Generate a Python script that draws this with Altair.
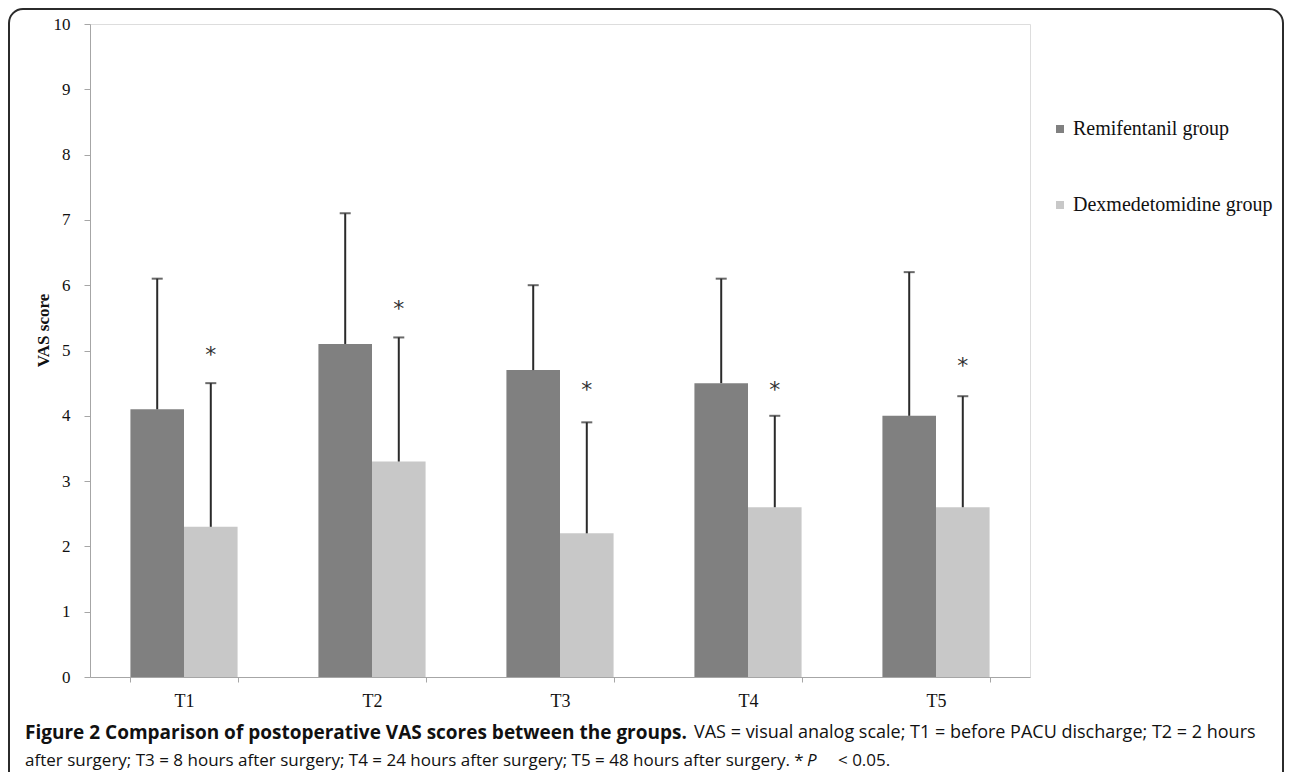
import altair as alt
import pandas as pd

categories = ["T1", "T2", "T3", "T4", "T5"]
groups = ["Remifentanil group", "Dexmedetomidine group"]
remi_mean = [4.1, 5.1, 4.7, 4.5, 4.0]
remi_upper = [6.1, 7.1, 6.0, 6.1, 6.2]
dex_mean = [2.3, 3.3, 2.2, 2.6, 2.6]
dex_upper = [4.5, 5.2, 3.9, 4.0, 4.3]
star_pos = [5.0, 5.7, 4.46, 4.46, 4.83]
colors = ["#808080", "#c8c8c8"]

caption_bold = "Figure 2 Comparison of postoperative VAS scores between the groups."
caption_line1 = "VAS = visual analog scale; T1 = before PACU discharge; T2 = 2 hours"
caption_line2a = "after surgery; T3 = 8 hours after surgery; T4 = 24 hours after surgery; T5 = 48 hours after surgery. *"
caption_line2b = "P"
caption_line2c = "< 0.05."

rows = []
for i, c in enumerate(categories):
    rows.append({"cat": c, "group": groups[0], "value": remi_mean[i], "upper": remi_upper[i]})
    rows.append({"cat": c, "group": groups[1], "value": dex_mean[i], "upper": dex_upper[i]})
df = pd.DataFrame(rows)
stars = pd.DataFrame({"cat": categories, "group": [groups[1]] * 5, "pos": star_pos, "t": ["*"] * 5})

W, H = 940, 653
SERIF = "Liberation Serif"
CAP = "Open Sans"

xenc = alt.X("cat:N", sort=categories, title=None,
             scale=alt.Scale(paddingInner=0.43, paddingOuter=0.215),
             axis=alt.Axis(labelAngle=0, tickBand="extent", tickSize=5, labelPadding=10,
                           labelFont=SERIF, labelFontSize=18, labelColor="#111",
                           domainColor="#a6a6a6", tickColor="#a6a6a6"))
xoff = alt.XOffset("group:N", sort=groups)
yscale = alt.Scale(domain=[0, 10])
yaxis = alt.Axis(values=list(range(11)), format="d", tickSize=6, labelPadding=14, grid=False,
                 labelFont=SERIF, labelFontSize=17, labelColor="#111",
                 domainColor="#a6a6a6", tickColor="#a6a6a6",
                 title="VAS score", titleFont=SERIF, titleFontSize=17, titleFontWeight="bold",
                 titleColor="#111", titleX=-47, titleY=306, titleAngle=270, titleAlign="center",
                 titleBaseline="middle")

bars = alt.Chart(df).mark_bar().encode(
    x=xenc, xOffset=xoff,
    y=alt.Y("value:Q", scale=yscale, axis=yaxis),
    color=alt.Color("group:N", sort=groups, scale=alt.Scale(domain=groups, range=colors),
                    legend=alt.Legend(orient="none", legendX=960, legendY=95, title=None,
                                      symbolType="square", symbolSize=64, symbolStrokeWidth=0,
                                      labelFont=SERIF, labelFontSize=20, labelColor="#111",
                                      rowPadding=56, labelOffset=3, labelLimit=300)),
)
err = alt.Chart(df).mark_rule(color="#2a2a2a", strokeWidth=2).encode(
    x=alt.X("cat:N", sort=categories), xOffset=xoff, y="value:Q", y2="upper:Q")
caps = alt.Chart(df).mark_tick(color="#2a2a2a", orient="horizontal", size=11, thickness=2).encode(
    x=alt.X("cat:N", sort=categories), xOffset=xoff, y="upper:Q")
star = alt.Chart(stars).mark_text(font="DejaVu Sans", fontSize=22, color="#333", baseline="middle", dy=4).encode(
    x=alt.X("cat:N", sort=categories), xOffset=alt.XOffset("group:N", sort=groups), y="pos:Q", text="t:N")

border = alt.Chart(pd.DataFrame({"a": [0]})).mark_rect(
    filled=False, stroke="#2b2b2b", strokeWidth=2, cornerRadius=14).encode(
    x=alt.value(-81), x2=alt.value(1193), y=alt.value(-15), y2=alt.value(800))

cap_df = pd.DataFrame({"a": [0]})
def cap_text(txt, x, y, size=17, weight="normal", style="normal", align="left"):
    return alt.Chart(cap_df).mark_text(font=CAP, fontSize=size, fontWeight=weight, fontStyle=style,
                                       align=align, baseline="middle", color="#111").encode(
        x=alt.value(x), y=alt.value(y), text=alt.value(txt))

c1 = cap_text(caption_bold, -65, 709, size=19, weight="bold")
c2 = cap_text(caption_line1, 604, 709, size=18)
c3 = cap_text(caption_line2a, -65, 737)
c4 = cap_text(caption_line2b, 717, 737, style="italic")
c5 = cap_text(caption_line2c, 748, 737)

chart = alt.layer(border, bars, err, caps, star, c1, c2, c3, c4, c5).properties(
    width=W, height=H,
    padding={"left": 82, "top": 16, "right": 254, "bottom": 95},
    autosize=alt.AutoSizeParams(type="none"),
).configure_view(stroke=None).configure(background="white")

chart.save("out.html", embed_options={"renderer": "svg", "actions": False})
